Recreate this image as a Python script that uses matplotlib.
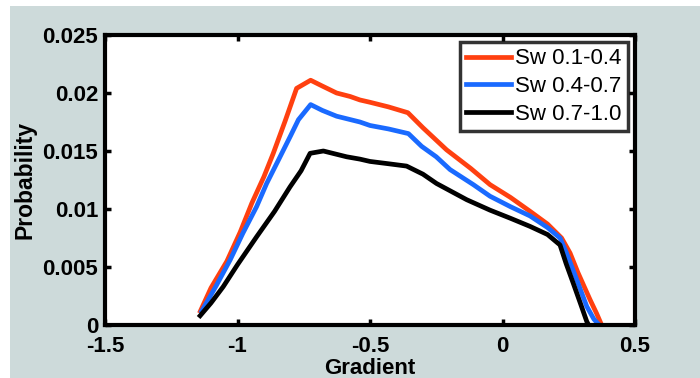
import numpy as np
import matplotlib.pyplot as plt
from matplotlib.patches import Rectangle

# --- DATA ---
x_red = [-1.14, -1.10, -1.04, -0.99, -0.946, -0.90, -0.865, -0.82, -0.777, -0.724,
         -0.68, -0.626, -0.575, -0.538, -0.50, -0.43, -0.357, -0.30, -0.211, -0.12,
         -0.047, 0.03, 0.104, 0.17, 0.223, 0.255, 0.285, 0.33, 0.355, 0.374]
y_red = [0.0012, 0.0032, 0.0055, 0.0080, 0.0105, 0.0128, 0.0148, 0.0176, 0.0204, 0.0211,
         0.0206, 0.0200, 0.0197, 0.0194, 0.0192, 0.0188, 0.0183, 0.0170, 0.0151, 0.0135,
         0.0121, 0.0110, 0.0098, 0.0087, 0.0075, 0.0062, 0.0045, 0.0022, 0.0010, 0.0]

x_blue = [-1.135, -1.08, -1.028, -0.98, -0.928, -0.89, -0.846, -0.80, -0.770, -0.724,
          -0.68, -0.626, -0.538, -0.50, -0.43, -0.355, -0.305, -0.25, -0.198, -0.11,
          -0.047, 0.03, 0.104, 0.17, 0.217, 0.24, 0.267, 0.295, 0.318, 0.345, 0.365]
y_blue = [0.0012, 0.0034, 0.0056, 0.0079, 0.0102, 0.0122, 0.0142, 0.0163, 0.0177, 0.0190,
          0.0185, 0.0180, 0.0175, 0.0172, 0.0169, 0.0165, 0.0154, 0.0145, 0.0134, 0.0121,
          0.0111, 0.0102, 0.0094, 0.0084, 0.0075, 0.0063, 0.0047, 0.0030, 0.0016, 0.0005, 0.0]

x_black = [-1.141, -1.10, -1.054, -1.00, -0.928, -0.86, -0.802, -0.76, -0.726, -0.676,
           -0.588, -0.538, -0.50, -0.43, -0.362, -0.30, -0.249, -0.135, -0.047, 0.03,
           0.104, 0.17, 0.217, 0.24, 0.267, 0.295, 0.318, 0.325]
y_black = [0.0008, 0.0019, 0.0033, 0.0052, 0.0076, 0.0098, 0.0119, 0.0133, 0.0148, 0.0150,
           0.0145, 0.0143, 0.0141, 0.0139, 0.0137, 0.0130, 0.0122, 0.0108, 0.0099, 0.0092,
           0.0085, 0.0078, 0.0069, 0.0053, 0.0036, 0.0018, 0.0003, 0.0]

labels = ["Sw 0.1-0.4", "Sw 0.4-0.7", "Sw 0.7-1.0"]
colors = ["#ff4010", "#1a6aff", "#000000"]

xticks = [-1.5, -1, -0.5, 0, 0.5]
xtick_labels = ["-1.5", "-1", "-0.5", "0", "0.5"]
yticks = [0, 0.005, 0.01, 0.015, 0.02, 0.025]
ytick_labels = ["0", "0.005", "0.01", "0.015", "0.02", "0.025"]

# --- PLOT ---
plt.rcParams["font.family"] = ["Liberation Sans", "DejaVu Sans"]
fig = plt.figure(figsize=(7.0, 3.78), dpi=100, facecolor="white")
fig.patches.append(Rectangle((10 / 700, 0), 690 / 700, 1 - 6 / 378,
                             transform=fig.transFigure, facecolor="#cddada",
                             edgecolor="none", zorder=-10))

ax = fig.add_axes([105 / 700, 1 - 325 / 378, 530 / 700, 290 / 378])
ax.set_facecolor("white")

for xs, ys, c, lab in zip([x_red, x_blue, x_black], [y_red, y_blue, y_black], colors, labels):
    ax.plot(xs, ys, color=c, lw=3.4, label=lab, solid_joinstyle="round")

ax.set_xlim(-1.5, 0.5)
ax.set_ylim(0, 0.025)
ax.set_xticks(xticks)
ax.set_xticklabels(xtick_labels)
ax.set_yticks(yticks)
ax.set_yticklabels(ytick_labels)
ax.tick_params(direction="in", length=4, width=2.5, top=True, right=True,
               labelsize=16, pad=5)
ax.tick_params(axis="x", pad=8)
for lbl in ax.get_xticklabels() + ax.get_yticklabels():
    lbl.set_fontweight("bold")
for sp in ax.spines.values():
    sp.set_linewidth(3)

ax.set_xlabel("Gradient", fontsize=16, fontweight="bold", labelpad=1)
ax.set_ylabel("Probability", fontsize=16.5, fontweight="bold", labelpad=4)

leg = ax.legend(loc="upper right", fontsize=16, frameon=True, fancybox=False,
                handlelength=2.0, handletextpad=0.2, borderpad=0.3,
                labelspacing=0.3, borderaxespad=0.3)
leg.get_frame().set_edgecolor("black")
leg.get_frame().set_linewidth(2.5)
for ln in leg.get_lines():
    ln.set_linewidth(3.4)

fig.savefig("out.png", dpi=100, facecolor=fig.get_facecolor())
